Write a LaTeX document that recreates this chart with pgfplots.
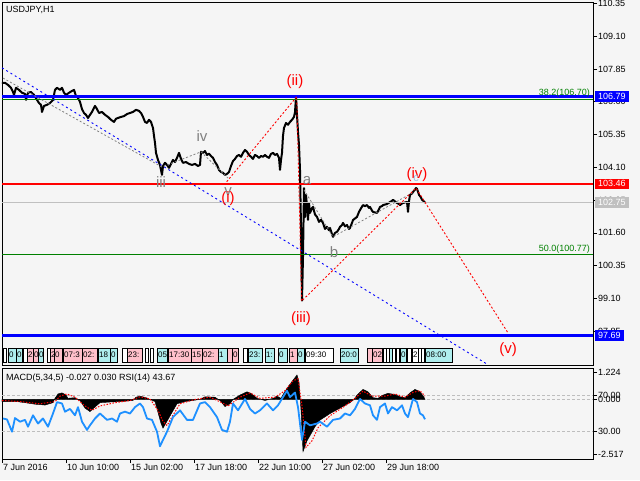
\documentclass[border=0pt]{standalone}
\usepackage{pgfplots}
\pgfplotsset{compat=1.18}
\usepackage{fontspec}
\setmainfont{Liberation Sans}

\definecolor{bgc}{RGB}{245,245,245}
\definecolor{mtblue}{RGB}{0,0,255}
\definecolor{mtred}{RGB}{255,0,0}
\definecolor{mtgreen}{RGB}{0,128,0}
\definecolor{mtsilver}{RGB}{192,192,192}
\definecolor{mtgray}{RGB}{128,128,128}
\definecolor{lvl}{RGB}{190,190,190}
\definecolor{rsiblue}{RGB}{30,144,255}
\definecolor{tpink}{RGB}{255,192,203}
\definecolor{tcyan}{RGB}{175,238,238}
\definecolor{cblue}{RGB}{160,190,225}

\newcommand\sz[1]{\fontsize{#1}{#1}\selectfont}
% time box strip along the bottom of the price window
\newcommand\tb[4]{%
  \draw[black, line width=0.6pt, fill=#3] (axis cs:#1,97.21) rectangle (axis cs:#2,96.68);
  \node[font=\sz{8}, inner sep=0pt, anchor=west] at (axis cs:#1,96.945) {\hspace{1pt}#4};}

\begin{document}
\begin{tikzpicture}
\path[use as bounding box, fill=bgc] (0,0) rectangle (640pt,480pt);

% ---------------- price window ----------------
\begin{axis}[
  name=main, at={(2pt,115pt)}, anchor=south west, scale only axis,
  width=591pt, height=363pt,
  xmin=0, xmax=591, ymin=96.565, ymax=110.40,
  xtick=\empty,
  ytick={110.35,109.10,107.85,106.60,105.35,104.10,102.85,101.60,100.35,99.10,97.85},
  yticklabels={110.35,109.10,107.85,106.60,105.35,104.10,102.85,101.60,100.35,99.10,97.85},
  ytick pos=right, yticklabel pos=right, tick align=outside,
  major tick length=4pt,
  tick style={black, line width=0.6pt},
  axis line style={black, line width=0.8pt},
  yticklabel style={font=\sz{9}, inner sep=1pt},
]
\addplot[black, line width=2pt, line join=round] coordinates {
(0,107.32) (3,107.32) (6,107.24) (9,107.13) (11,106.97) (12,106.86) (14,107.13)
(17,107.05) (20,106.94) (23,106.90) (24,106.67) (26,106.94) (29,106.97) (32,106.86)
(35,106.67) (37,106.55) (39,106.48) (40,106.21) (42,106.44) (45,106.48) (48,106.55)
(51,106.67) (53,107.05) (55,107.13) (58,107.05) (60,107.13) (62,106.94) (64,106.86)
(67,106.94) (70,107.01) (72,107.05) (74,106.82) (76,106.74) (78,106.59) (80,106.32)
(82,106.17) (84,106.10) (86,105.98) (88,106.10) (90,106.21) (93,106.44) (95,106.32)
(97,106.17) (100,106.21) (103,106.10) (106,106.02) (109,105.91) (112,105.83) (114,105.95)
(116,105.98) (119,106.02) (122,106.05) (125,106.13) (128,106.17) (131,106.21) (134,106.29)
(137,106.25) (139,106.17) (141,106.02) (143,105.83) (145,105.79) (147,105.91) (149,105.83)
(151,105.60) (152,105.30) (153,105.03) (154,104.65) (156,104.38) (158,104.19) (160,103.81)
(161,104.15) (163,104.27) (165,104.19) (167,104.08) (169,104.23) (171,104.38) (173,104.30)
(175,104.46) (177,104.65) (179,104.42) (181,104.27) (184,104.30) (187,104.23) (190,104.19)
(193,104.23) (196,104.15) (198,104.19) (199,104.69) (201,104.65) (203,104.72) (205,104.57)
(207,104.62) (209,104.53) (211,104.46) (213,104.30) (215,104.19) (217,104.00) (219,103.92)
(221,103.89) (223,103.81) (225,103.85) (227,103.92) (229,104.15) (231,104.34) (233,104.42)
(235,104.53) (237,104.57) (239,104.50) (241,104.65) (243,104.76) (245,104.69) (247,104.57)
(249,104.50) (251,104.42) (253,104.57) (255,104.53) (257,104.46) (259,104.53) (261,104.50)
(263,104.57) (265,104.50) (267,104.46) (269,104.61) (271,104.65) (273,104.57) (275,104.61)
(277,104.46) (278,104.00) (279,104.38) (280,104.65) (281,105.30) (282,105.60) (284,105.79)
(286,105.72) (288,105.83) (290,105.91) (292,106.02) (293,106.20) (294,106.78) (295,106.10)
(296,105.45) (297,104.95) (298,104.00) (299,101.80) (300,99.02) (301,100.70) (302,103.31)
(303,102.20) (304,103.05) (305,102.60) (306,102.10) (307,102.74) (308,102.36) (310,102.55)
(311,102.59) (313,102.30) (315,102.21) (317,102.02) (319,102.10) (321,101.98) (323,101.75)
(325,101.83) (327,101.70) (328,101.79) (330,101.55) (331,101.45) (333,101.60) (335,101.64)
(337,101.75) (338,101.83) (340,101.90) (341,101.98) (343,101.85) (345,101.90) (347,101.75)
(348,101.79) (350,101.98) (351,102.09) (353,102.15) (355,102.21) (357,102.40) (358,102.47)
(360,102.60) (361,102.66) (363,102.62) (365,102.66) (367,102.55) (368,102.59) (370,102.45)
(371,102.40) (373,102.38) (375,102.36) (377,102.50) (378,102.59) (380,102.62) (381,102.66)
(383,102.68) (385,102.70) (387,102.75) (388,102.78) (390,102.82) (391,102.86) (393,102.80)
(395,102.74) (397,102.70) (398,102.66) (400,102.72) (401,102.74) (403,102.76) (405,102.78)
(406,102.40) (407,102.80) (408,103.05) (410,103.10) (411,103.16) (413,103.25) (414,103.31)
(415,103.28) (417,103.05) (419,102.95) (420,102.86) (422,102.80) (423,102.75)};

% horizontal levels
\addplot[mtgreen, line width=0.9pt] coordinates {(0,106.70) (591,106.70)};
\addplot[mtblue, line width=3pt] coordinates {(0,106.79) (591,106.79)};
\addplot[mtred, line width=2.5pt] coordinates {(0,103.46) (591,103.46)};
\addplot[mtsilver, line width=0.9pt] coordinates {(0,102.75) (591,102.75)};
\addplot[mtgreen, line width=0.9pt] coordinates {(0,100.77) (591,100.77)};
\addplot[mtblue, line width=3pt] coordinates {(0,97.69) (591,97.69)};

% trend line and wave paths
\addplot[mtblue, line width=0.9pt, dash pattern=on 2pt off 3pt] coordinates {(0,107.89) (485,96.60)};
\addplot[mtgray, line width=0.8pt, dash pattern=on 2pt off 2pt] coordinates {(1,107.50) (160,104.11) (199,104.69) (226,103.69)};
\addplot[mtgray, line width=0.8pt, dash pattern=on 2pt off 2pt] coordinates {(302,103.24) (331,101.45) (412,103.16)};
\addplot[mtred, line width=0.9pt, dash pattern=on 2pt off 2pt] coordinates {(224.7,103.55) (294.7,106.79) (299.7,99.00) (414,103.31) (506.3,97.77)};

% wave labels
\node[font=\sz{15}, text=mtgray] at (axis cs:200,105.30) {iv};
\node[font=\sz{15}, text=mtgray] at (axis cs:159,103.54) {iii};
\node[font=\sz{15}, text=mtgray] at (axis cs:226,103.16) {v};
\node[font=\sz{15}, text=mtred] at (axis cs:226,102.89) {(i)};
\node[font=\sz{15}, text=mtred] at (axis cs:293,107.35) {(ii)};
\node[font=\sz{15}, text=mtgray] at (axis cs:305,103.58) {a};
\node[font=\sz{15}, text=mtgray] at (axis cs:332,100.87) {b};
\node[font=\sz{15}, text=mtred] at (axis cs:299,98.32) {(iii)};
\node[font=\sz{15}, text=mtred] at (axis cs:415,103.81) {(iv)};
\node[font=\sz{11}, text=cblue] at (axis cs:414,103.66) {c};
\node[font=\sz{15}, text=mtred] at (axis cs:506,97.17) {(v)};
\node[font=\sz{9}, text=mtgreen, anchor=east, inner sep=0pt] at (axis cs:588,106.93) {38.2(106.70)};
\node[font=\sz{9}, text=mtgreen, anchor=east, inner sep=0pt] at (axis cs:588,100.97) {50.0(100.77)};

% time boxes
\tb{1}{4}{white}{}
\tb{6}{14}{tcyan}{0}
\tb{14}{20}{tcyan}{0}
\tb{21}{25}{white}{}
\tb{25}{31}{tpink}{2}
\tb{31}{36}{tpink}{0}
\tb{36}{41}{tcyan}{0}
\tb{45}{48}{white}{}
\tb{48}{52}{tpink}{2}
\tb{52}{60}{tpink}{0}
\tb{61}{80}{tpink}{07:3}
\tb{80}{95}{tpink}{02:}
\tb{96}{108}{tcyan}{18}
\tb{108}{115}{tcyan}{0}
\tb{120}{125}{white}{}
\tb{125}{140}{tpink}{23:}
\tb{143}{146}{white}{}
\tb{148}{151}{white}{}
\tb{155}{165}{tcyan}{05}
\tb{166}{189}{tpink}{17:30}
\tb{189}{200}{tpink}{15}
\tb{200}{216}{tpink}{02:}
\tb{216}{225}{tcyan}{1}
\tb{225}{230}{tpink}{}
\tb{230}{236}{tpink}{0}
\tb{241}{245}{white}{}
\tb{246}{260}{tcyan}{23:}
\tb{263}{272}{tcyan}{1:}
\tb{276}{285}{tcyan}{0}
\tb{287}{295}{tpink}{1}
\tb{295}{302}{tcyan}{0}
\tb{303}{331}{white}{09:30}
\tb{338}{356}{tcyan}{20:0}
\tb{365}{370}{tpink}{}
\tb{370}{380}{tpink}{02}
\tb{381}{384}{white}{}
\tb{384}{387}{white}{}
\tb{387}{390}{tcyan}{}
\tb{390}{393}{white}{}
\tb{394}{397}{white}{}
\tb{398}{404}{tcyan}{0}
\tb{405}{409}{white}{}
\tb{410}{416}{white}{2}
\tb{416}{419}{white}{}
\tb{419}{422}{white}{}
\tb{423}{450}{tcyan}{08:00}

\coordinate (l1) at (axis cs:591,106.79);
\coordinate (l2) at (axis cs:591,103.46);
\coordinate (l3) at (axis cs:591,102.75);
\coordinate (l4) at (axis cs:591,97.69);
\end{axis}

\begin{scope}[every node/.style={anchor=west, font=\sz{9}, text=white, inner xsep=3pt, inner ysep=1pt, text height=7pt, text depth=1.5pt}]
\node[fill=mtblue] at ([xshift=2pt]l1) {106.79};
\node[fill=mtred] at ([xshift=2pt]l2) {103.46};
\node[fill=mtsilver] at ([xshift=2pt]l3) {102.75};
\node[fill=mtblue] at ([xshift=2pt]l4) {97.69};
\end{scope}
\node[anchor=base west, font=\sz{9}, inner sep=0pt] at (6pt,467pt) {USDJPY,H1};

% ---------------- indicator window ----------------
\begin{axis}[
  name=ind, at={(2pt,21pt)}, anchor=south west, scale only axis,
  width=591pt, height=91pt,
  xmin=0, xmax=591, ymin=-2.733, ymax=1.44,
  xtick={0,64,128,192,256,320,384},
  xticklabels={7 Jun 2016,10 Jun 10:00,15 Jun 02:00,17 Jun 18:00,22 Jun 10:00,27 Jun 02:00,29 Jun 18:00},
  xtick pos=left, tick align=outside,
  xticklabel style={anchor=north west, font=\sz{9}, inner sep=1pt},
  ytick={-2.517,-1.481,0,0.188,1.224},
  yticklabels={-2.517,30.00,0.000,70.00,1.224},
  ytick pos=right, yticklabel pos=right,
  yticklabel style={font=\sz{9}, inner sep=1pt},
  major tick length=4pt,
  tick style={black, line width=0.6pt},
  axis line style={black, line width=0.8pt},
]
\addplot[lvl, line width=0.8pt, dash pattern=on 3pt off 2pt] coordinates {(0,0.188) (591,0.188)};
\addplot[lvl, line width=0.8pt, dash pattern=on 3pt off 2pt] coordinates {(0,0) (591,0)};
\addplot[lvl, line width=0.8pt, dash pattern=on 3pt off 2pt] coordinates {(0,-1.481) (591,-1.481)};
\addplot[fill=black, draw=black, line width=0.4pt] coordinates {
(0,0) (0,-0.1) (15,-0.1) (23,-0.15) (33,-0.22) (43,-0.26) (51,-0.15) (53,0.05) (56,0.25)
(60,0.3) (64,0.2) (66,0.05) (73,0.08) (78,-0.05) (83,-0.4) (88,-0.56) (93,-0.35) (98,-0.15)
(108,-0.12) (118,-0.1) (131,-0.05) (134,0.1) (138,0.15) (144,0.08) (148,0.0) (153,-0.1)
(156,-0.6) (159,-1.1) (161,-1.32) (165,-1.0) (170,-0.6) (175,-0.2) (183,-0.1) (198,0.0)
(203,0.12) (213,0.1) (218,-0.05) (223,-0.33) (228,-0.2) (231,0.0) (238,0.2) (245,0.35)
(250,0.25) (255,0.05) (263,-0.05) (271,0.05) (275,0.15) (279,0.05) (282,0.3) (288,0.7)
(293,1.0) (295,1.12) (297,0.8) (299,-0.5) (301,-2.4) (305,-1.9) (310,-1.5) (313,-1.25)
(318,-0.95) (328,-0.65) (338,-0.4) (348,-0.15) (352,0.0) (355,0.2) (361,0.46) (366,0.35)
(371,0.08) (376,0.05) (380,0.18) (386,0.28) (393,0.22) (398,0.12) (403,0.08) (408,0.3)
(413,0.46) (418,0.35) (422,0.1) (423,0)} \closedcycle;
\addplot[mtred, line width=1pt, dash pattern=on 1.5pt off 1.5pt] coordinates {
(0,-0.05) (18,-0.1) (38,-0.2) (53,-0.1) (58,0.15) (65,0.25) (73,0.1) (83,-0.3) (90,-0.5)
(98,-0.3) (113,-0.15) (128,-0.05) (138,0.12) (148,0.02) (156,-0.5) (161,-1.0) (165,-1.2)
(170,-0.8) (178,-0.2) (193,0.0) (208,0.1) (220,-0.15) (226,-0.3) (238,0.1) (248,0.3)
(258,0.05) (273,0.1) (283,0.4) (291,0.85) (296,0.95) (300,-0.3) (304,-2.2) (310,-1.9)
(316,-1.3) (328,-0.75) (343,-0.3) (353,0.05) (361,0.38) (370,0.15) (383,0.15) (393,0.25)
(403,0.1) (411,0.32) (418,0.4) (423,0.15)};
\end{axis}
\node[anchor=base west, font=\sz{9}, inner sep=0pt] at (6pt,100pt) {MACD(5,34,5) -0.027 0.030 RSI(14) 43.67};

% RSI overlay on its own 0..100 scale
\begin{axis}[
  at={(2pt,21pt)}, anchor=south west, scale only axis,
  width=591pt, height=91pt,
  xmin=0, xmax=591, ymin=0, ymax=100, hide axis,
]
\addplot[rsiblue, line width=1.8pt, line join=round] coordinates {
(1,44.5) (5,43.5) (10,30) (13,45) (18,41) (23,43) (26,35.5) (31,48) (36,39) (41,44.5)
(46,35.5) (51,50) (55,62.5) (60,61) (63,52) (68,55) (73,48) (76,57) (80,41) (85,32)
(88,37) (93,44.5) (98,50) (105,43) (110,44.5) (115,41) (118,50) (123,52) (128,50)
(133,57) (138,61) (141,57) (145,44.5) (150,43) (155,30) (158,14) (161,21) (165,30)
(171,46) (178,53.5) (185,43) (191,43) (198,61) (203,62.5) (208,57) (215,46) (220,32)
(225,30) (228,41) (231,61) (236,53.5) (243,66) (248,55) (253,50) (258,53.5) (265,61)
(271,53.5) (276,59) (281,68) (285,75) (288,68) (293,73) (296,57) (300,21) (303,41)
(308,37) (315,39) (318,41) (325,35.5) (331,43) (338,44.5) (343,50) (348,48) (353,55)
(358,66) (363,61) (368,59) (371,48) (375,43) (378,57) (383,61) (386,50) (390,57)
(395,53.5) (400,59) (403,50) (406,46) (411,66) (415,62.5) (418,50) (421,48) (423,43.67)};
\end{axis}
\end{tikzpicture}
\end{document}
